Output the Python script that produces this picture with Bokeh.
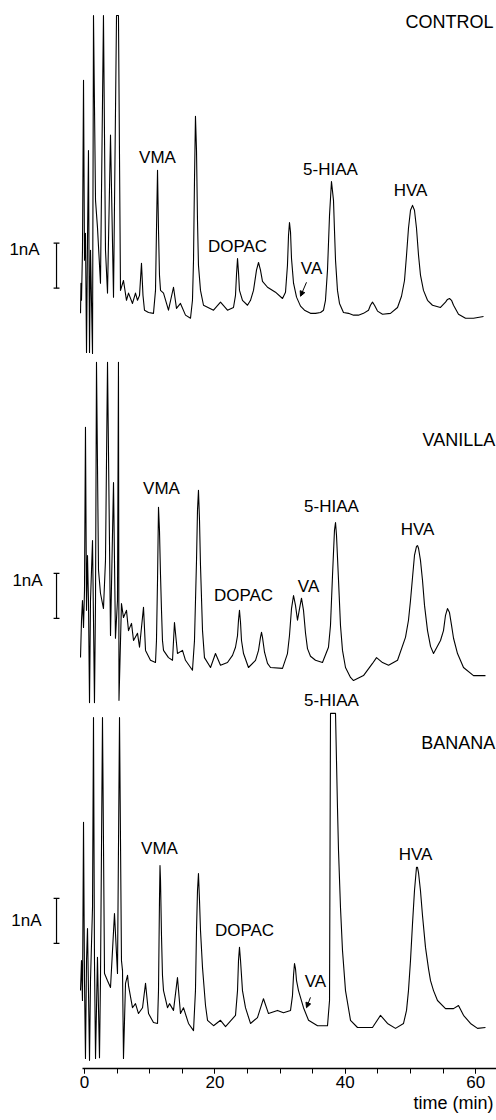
from bokeh.plotting import figure
from bokeh.models import Range1d, Label, Arrow, NormalHead, SingleIntervalTicker, ColumnDataSource, Title
from bokeh.embed import file_html
from bokeh.resources import INLINE

# ---------------- data (time in min, current in nA above each trace's baseline) ----------------
control_time = [-0.61, -0.54, -0.46, -0.31, -0.15, 0.00, 0.15, 0.31, 0.46, 0.61,
                0.77, 0.92, 1.07, 1.23, 1.38, 1.69, 1.99, 2.45, 2.91, 3.22,
                3.53, 3.99, 4.45, 4.91, 5.21, 5.52, 5.98, 6.44, 6.75, 7.36,
                7.82, 8.13, 8.44, 8.74, 8.97, 9.20, 9.82,
                10.58, 10.89, 11.04, 11.20, 11.35, 11.50, 11.66, 12.12, 12.88, 13.65,
                14.11, 14.72, 15.49, 16.26,
                16.56, 16.72, 16.87, 17.02, 17.18, 17.33, 17.48, 17.79, 18.25,
                19.79, 20.86, 21.93, 22.85,
                23.16, 23.31, 23.47, 23.62, 23.77, 24.23, 25.00,
                25.46, 25.92, 26.38, 26.69, 26.99, 27.30, 28.07, 29.29, 30.37,
                30.83, 31.13, 31.29, 31.44, 31.60, 31.75, 32.06, 32.52, 33.13, 33.74, 34.66, 35.43,
                36.20, 36.66, 36.96, 37.27, 37.58, 37.88, 38.19, 38.34, 38.50, 38.80, 39.11, 39.72,
                40.49, 41.26, 42.02, 42.79,
                43.56, 43.86, 44.17, 44.48, 44.94, 45.71, 46.93,
                48.01, 48.62, 49.08, 49.39, 49.69, 50.00, 50.31, 50.61, 50.92, 51.23, 51.53, 51.99,
                52.61, 53.37, 54.60,
                55.37, 55.67, 55.98, 56.29, 56.60, 57.36, 58.44, 59.66, 61.20]
control_nA = [0.11, 0.78, 0.40, 1.51, 5.29, 1.29, 1.89, -0.76, 1.73, 3.73,
              -0.76, 1.51, 0.40, -0.78, 6.73, 2.62, 2.02, 0.78, 6.73, 1.51,
              0.56, 4.07, 0.47, 6.73, 6.73, 0.62, 0.84, 0.40, 0.56, 0.33,
              0.56, 0.40, 0.51, 1.22, 0.51, 0.18, 0.13,
              0.11, 0.62, 1.96, 3.29, 1.96, 0.96, 0.62, 0.56, 0.18, 0.69,
              0.22, 0.33, 0.07, 0.00,
              0.40, 1.29, 3.07, 4.49, 3.73, 2.18, 1.18, 0.62, 0.29,
              0.18, 0.36, 0.18, 0.24,
              0.51, 0.96, 1.33, 1.02, 0.62, 0.40, 0.29,
              0.40, 0.62, 1.07, 1.24, 1.07, 0.82, 0.69, 0.58, 0.44,
              0.58, 1.18, 1.84, 2.13, 1.91, 1.33, 0.78, 0.47, 0.27, 0.18, 0.11, 0.11,
              0.13, 0.18, 0.40, 1.07, 2.29, 3.04, 2.62, 1.96, 1.29, 0.62, 0.33, 0.13,
              0.11, 0.07, 0.07, 0.11,
              0.18, 0.29, 0.36, 0.29, 0.16, 0.09, 0.11,
              0.24, 0.49, 0.84, 1.40, 2.00, 2.40, 2.51, 2.40, 2.00, 1.40, 0.96, 0.62,
              0.40, 0.29, 0.24,
              0.36, 0.42, 0.44, 0.40, 0.29, 0.09, 0.00, 0.00, 0.04]

vanilla_time = [-0.61, -0.46, -0.31, -0.15, 0.00, 0.15, 0.31, 0.46, 0.61, 0.77,
                0.92, 1.23, 1.38, 1.53, 1.69, 1.84, 2.15, 2.45, 2.91, 3.22,
                3.53, 3.99, 4.45, 4.75, 5.06, 5.21, 5.29, 5.67, 5.98, 6.44,
                6.75, 7.21, 7.52, 8.13, 8.44, 9.05, 9.36, 10.12,
                10.89, 11.04, 11.20, 11.35, 11.50, 11.66, 11.81, 11.96, 12.12, 12.88, 13.50, 13.80,
                14.26, 15.03, 15.49, 16.56,
                16.87, 17.18, 17.33, 17.48, 17.64, 17.79, 18.10, 18.40, 19.33, 20.09, 20.86, 21.93, 22.70,
                23.16, 23.47, 23.62, 23.77, 23.93, 24.08, 24.39, 25.15,
                26.23, 26.69, 26.99, 27.15, 27.30, 27.61, 28.07, 28.53, 30.37,
                31.13, 31.44, 31.75, 32.06, 32.36, 32.67, 32.98, 33.28, 33.59, 33.90, 34.20, 34.66, 35.43, 36.50,
                37.42, 37.73, 38.04, 38.34, 38.50, 38.65, 38.96, 39.26, 39.57, 40.03, 40.80, 41.26, 42.79,
                44.17, 44.79, 45.71, 46.63, 48.01,
                49.23, 49.69, 50.00, 50.31, 50.61, 50.92, 51.07, 51.23, 51.53, 51.84, 52.15, 52.61, 53.07, 53.53,
                54.60, 55.06, 55.37, 55.67, 55.98, 56.29, 56.60, 57.21, 58.13, 59.66, 61.50]
vanilla_nA = [0.44, 1.27, 1.71, 1.11, 1.93, 5.56, 1.49, 2.71, 1.71, -0.56,
              1.71, 3.04, 1.27, -0.56, 1.71, 7.00, 2.38, 1.87, 1.53, 2.60,
              7.00, 0.93, 4.33, 0.87, 1.71, 7.00, -0.51, 1.64, 1.33, 1.49,
              1.04, 1.20, 0.82, 0.98, 0.67, 1.56, 0.60, 0.38,
              0.33, 0.82, 2.16, 3.78, 3.27, 2.27, 1.49, 0.82, 0.60, 0.44, 0.38, 1.22,
              0.53, 0.60, 0.38, 0.16,
              0.82, 2.60, 3.71, 4.16, 3.49, 2.49, 1.04, 0.44, 0.22, 0.53, 0.27, 0.33, 0.49,
              0.67, 0.93, 1.27, 1.49, 1.22, 0.82, 0.53, 0.22,
              0.38, 0.60, 0.89, 1.00, 0.89, 0.56, 0.31, 0.22, 0.20,
              0.53, 0.93, 1.53, 1.82, 1.60, 1.27, 1.53, 1.76, 1.49, 0.98, 0.64, 0.47, 0.38, 0.33,
              0.67, 1.16, 2.27, 3.27, 3.44, 3.16, 2.16, 1.16, 0.60, 0.22, 0.00, -0.07, 0.04,
              0.31, 0.44, 0.33, 0.27, 0.38,
              0.89, 1.27, 1.71, 2.22, 2.71, 2.91, 2.93, 2.87, 2.60, 2.16, 1.60, 1.04, 0.69, 0.53,
              0.82, 1.04, 1.38, 1.53, 1.44, 1.16, 0.87, 0.53, 0.22, 0.04, 0.04]

banana_time = [-0.61, -0.46, -0.31, -0.15, 0.00, 0.15, 0.31, 0.46, 0.61, 0.77,
               0.92, 1.23, 1.38, 1.53, 1.69, 1.99, 2.30, 2.45, 2.76, 3.07,
               3.53, 3.99, 4.60, 5.06, 5.37, 5.67, 5.83, 5.98, 6.29, 6.60,
               6.75, 7.36, 7.82, 8.28, 8.90, 9.36, 9.82, 10.58,
               11.20, 11.35, 11.50, 11.58, 11.66, 11.81, 11.96, 12.12, 12.73, 13.04, 13.65,
               14.26, 14.72, 15.18, 15.95, 16.72,
               17.02, 17.18, 17.33, 17.48, 17.64, 17.79, 18.10, 18.56, 18.87, 19.79, 20.86, 21.63, 23.16,
               23.47, 23.62, 23.77, 23.93, 24.23, 24.69, 25.46, 26.53, 27.45, 28.22, 29.60, 30.52, 31.60,
               31.90, 32.06, 32.21, 32.36, 32.52, 32.82, 33.59, 34.36, 35.74, 37.27,
               37.58, 37.73, 38.50, 38.65, 38.80, 38.96, 39.26, 39.57, 40.03, 40.80, 41.87,
               44.17, 45.40, 46.47, 47.70, 48.93,
               49.39, 49.69, 50.00, 50.31, 50.61, 50.92, 51.07, 51.23, 51.53, 51.84, 52.30, 52.76, 53.07,
               53.53, 54.14, 55.37, 56.60, 57.36, 58.13, 59.20, 60.28, 61.50]
banana_nA = [0.82, 1.49, 0.60, 4.56, 1.04, -0.69, 1.49, 2.20, 0.82, -0.73,
             1.04, 2.67, 6.89, 1.49, -0.69, 1.56, -0.67, 1.04, 6.89, 1.20,
             1.04, 0.89, 2.53, 1.20, 6.89, 1.49, 1.27, -0.69, 0.98, 1.16,
             0.93, 0.44, 0.53, 0.31, 0.44, 0.98, 0.31, 0.11,
             0.09, 0.82, 2.82, 3.60, 3.27, 2.04, 1.16, 0.82, 0.44, 0.53, 0.38,
             1.11, 0.31, 0.44, 0.09, -0.07,
             0.82, 2.16, 3.04, 3.42, 2.82, 2.16, 1.33, 0.49, 0.16, 0.04, 0.16, 0.02, 0.27,
             0.82, 1.49, 1.78, 1.49, 0.82, 0.44, 0.09, 0.22, 0.64, 0.31, 0.38, 0.33, 0.38,
             0.71, 1.16, 1.42, 1.31, 1.04, 0.82, 0.44, 0.16, 0.04, 0.04,
             0.60, 6.98, 6.98, 5.93, 4.89, 3.93, 2.67, 1.71, 0.82, 0.16, 0.00,
             0.00, 0.27, 0.09, -0.02, 0.09,
             0.38, 0.82, 1.49, 2.31, 3.04, 3.56, 3.56, 3.44, 3.04, 2.49, 1.78, 1.31, 1.04,
             0.82, 0.60, 0.42, 0.42, 0.49, 0.27, 0.09, -0.02, 0.00]

sample_names = ["CONTROL", "VANILLA", "BANANA"]
peak_names = ["VMA", "DOPAC", "VA", "5-HIAA", "HVA"]
scale_text = "1nA"
x_ticks = [0, 20, 40, 60]
x_title = "time (min)"

# ---------------- layout (positions, not data) ----------------
traces = [(control_time, control_nA), (vanilla_time, vanilla_nA), (banana_time, banana_nA)]
offsets = [15.76, 7.78, 0.0]            # vertical stacking of the three records (nA)
name_pos = [(62.73, 6.58), (63.0, 5.27), (63.0, 6.33)]
peak_label_pos = [
    {"VMA": (11.2, 3.58), "DOPAC": (23.47, 1.60), "VA": (34.82, 1.11), "5-HIAA": (37.73, 3.31), "HVA": (50.0, 2.84)},
    {"VMA": (11.81, 4.20), "DOPAC": (24.39, 1.82), "VA": (34.36, 2.02), "5-HIAA": (37.88, 3.80), "HVA": (51.07, 3.29)},
    {"VMA": (11.50, 3.98), "DOPAC": (24.54, 2.16), "VA": (35.43, 1.02), "5-HIAA": (37.88, 7.27), "HVA": (50.77, 3.84)},
]
va_arrows = [((34.05, 0.80), (33.13, 0.49)), None, ((34.66, 0.67), (34.05, 0.44))]
scale_pos = [(-9.2, 1.53), (-8.74, 2.16), (-8.9, 2.38)]
scale_bar_x = -4.29
scale_bar_bottom = [0.67, 1.31, 1.87]
cap_half = 0.45

FONT = "Liberation Sans"

p = figure(width=496, height=1120, output_backend="svg", toolbar_location=None,
           x_range=Range1d(-12.883, 63.19), y_range=Range1d(-0.911, 22.822),
           y_axis_location=None, min_border_left=0, min_border_right=0,
           min_border_top=0, min_border_bottom=52)
p.xgrid.visible = False
p.ygrid.visible = False
p.outline_line_color = None
p.background_fill_color = "white"
p.border_fill_color = "white"

for (t, v), off in zip(traces, offsets):
    src = ColumnDataSource(dict(x=t, y=[val + off for val in v]))
    p.line("x", "y", source=src, line_color="black", line_width=1.1, line_join="round")

# scale bars
for off, b in zip(offsets, scale_bar_bottom):
    y0, y1 = off + b, off + b + 1.0
    p.segment(x0=[scale_bar_x, scale_bar_x - cap_half, scale_bar_x - cap_half],
              y0=[y0, y0, y1],
              x1=[scale_bar_x, scale_bar_x + cap_half, scale_bar_x + cap_half],
              y1=[y1, y0, y1], line_color="black", line_width=1.2)

def add_label(x, y, text, size="17px", align="center"):
    p.add_layout(Label(x=x, y=y, text=text, text_font=FONT, text_font_size=size,
                       text_color="black", text_align=align, text_baseline="middle"))

for i, off in enumerate(offsets):
    nx, ny = name_pos[i]
    add_label(nx, ny + off, sample_names[i], size="18px", align="right")
    for name in peak_names:
        lx, ly = peak_label_pos[i][name]
        add_label(lx, ly + off, name)
    sx, sy = scale_pos[i]
    add_label(sx, sy + off, scale_text)
    if va_arrows[i] is not None:
        (ax0, ay0), (ax1, ay1) = va_arrows[i]
        p.add_layout(Arrow(end=NormalHead(size=5, fill_color="black", line_color="black"),
                           x_start=ax0, y_start=ay0 + off, x_end=ax1, y_end=ay1 + off,
                           line_color="black", line_width=1))

# x axis
ax = p.xaxis[0]
ax.ticker = SingleIntervalTicker(interval=20, num_minor_ticks=4)
ax.bounds = (-0.3, 63.2)
ax.axis_line_color = "black"
ax.axis_line_width = 1.3
ax.major_tick_line_color = "black"
ax.minor_tick_line_color = "black"
ax.major_tick_in = 0
ax.major_tick_out = 5
ax.minor_tick_in = 0
ax.minor_tick_out = 5
ax.major_label_text_font = FONT
ax.major_label_text_font_size = "17px"
ax.major_label_text_color = "black"
ax.major_label_standoff = 2

p.add_layout(Title(text=x_title, align="right", text_font=FONT, text_font_size="18px",
                   text_font_style="normal", text_color="black", standoff=0, offset=3), "below")

open("out.html", "w").write(file_html(p, INLINE))
